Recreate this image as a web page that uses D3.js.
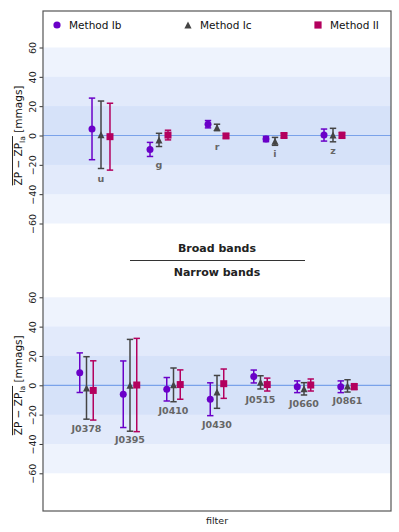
<!DOCTYPE html>
<meta charset="utf-8">
<style>
    body { margin: 0; background: #fff; }
    text { font-family: "DejaVu Sans", sans-serif; }
</style>
<svg width="399" height="532"></svg>
<script src="https://cdn.jsdelivr.net/npm/d3@7"></script>
<script>
    // data
    var broadBands = ["u", "g", "r", "i", "z"];
    var broadIb = [4.5, -9.5, 7.7, -2.4, 0.3];
    var broadIbErr = [21, 4.8, 2.5, 1.8, 4.1];
    var broadIc = [0.5, -3, 5.5, -4, 0.3];
    var broadIcErr = [23, 4.5, 2.2, 2.7, 4.6];
    var broadII = [-0.8, 0.3, -0.3, 0, 0.1];
    var broadIIErr = [22.8, 3.3, 1.5, 1.5, 2];

    var narrowBands = ["J0378", "J0395", "J0410", "J0430", "J0515", "J0660", "J0861"];
    var narrowIb = [8.6, -6.1, -2.7, -9.5, 6, -1, -1];
    var narrowIbErr = [13.5, 22.7, 8, 11.2, 4.4, 4, 4];
    var narrowIc = [-1.8, 0, 0.3, -4.5, 2, -2.4, -0.4];
    var narrowIcErr = [21.3, 31.3, 11.5, 11.2, 4.5, 4.2, 4.2];
    var narrowII = [-3.5, 0.2, 0.5, 1.1, 0.5, 0.2, -0.9];
    var narrowIIErr = [20.2, 31.8, 10, 10, 4.4, 4.1, 2];

    var yTicks = [-60, -40, -20, 0, 20, 40, 60];
    var bands = [60, 40, 20];
    var methods = ["Method Ib", "Method Ic", "Method II"];

    var colors = { "Method Ib": "#6a00c8", "Method Ic": "#444444", "Method II": "#b3005e" };
    var bandFill = { 60: "#eef3fd", 40: "#e2eafb", 20: "#d6e2f9" };

    var svg = d3.select("svg"),
        frameL = 43, frameR = 391, frameT = 11, frameB = 511;

    function marker(sel, m, r) {
        if (m === "Method Ib") {
            sel.append("circle").attr("r", r).attr("fill", colors[m]);
        } else if (m === "Method Ic") {
            sel.append("path").attr("d", "M0," + (-r) + "L" + r + "," + r + "L" + (-r) + "," + r + "Z")
                .attr("fill", colors[m]);
        } else {
            sel.append("rect").attr("x", -r).attr("y", -r).attr("width", 2 * r).attr("height", 2 * r)
                .attr("fill", colors[m]);
        }
    }

    function panel(zeroY, cats, series) {
        var y = d3.scaleLinear().domain([-60, 60]).range([zeroY + 88, zeroY - 88]);
        var x = d3.scalePoint().domain(cats).range([frameL, frameR]).padding(1);
        var off = x.step() * 0.155;
        var g = svg.append("g");

        // shaded bands
        g.selectAll("rect.band").data(bands).enter().append("rect")
            .attr("x", frameL).attr("width", frameR - frameL)
            .attr("y", function (d) { return y(d); })
            .attr("height", function (d) { return y(-d) - y(d); })
            .attr("fill", function (d) { return bandFill[d]; });

        g.append("line").attr("x1", frameL).attr("x2", frameR)
            .attr("y1", y(0)).attr("y2", y(0))
            .attr("stroke", "#7aa2ea").attr("stroke-width", 1.2);

        // y axis ticks
        var axis = g.append("g").attr("transform", "translate(" + frameL + ",0)")
            .call(d3.axisLeft(y).tickValues(yTicks).tickSize(3.5).tickFormat(function (d) {
                return d < 0 ? "\u2212" + (-d) : d;
            }));
        axis.select(".domain").remove();
        axis.selectAll("line").attr("stroke", "#333");
        axis.selectAll(".tick text")
            .attr("font-size", 9.5).attr("fill", "#222")
            .attr("x", null).attr("dy", null).attr("y", 0)
            .attr("text-anchor", "middle")
            .attr("transform", "translate(-7,0)rotate(-90)");

        // error bars and markers
        series.forEach(function (s, k) {
            var dx = (k - 1) * off;
            cats.forEach(function (c, i) {
                var v = s.v[i], e = s.e[i], cx = x(c) + dx;
                var eg = g.append("g").attr("stroke", colors[s.m]).attr("stroke-width", 1.5);
                eg.append("line").attr("x1", cx).attr("x2", cx).attr("y1", y(v - e)).attr("y2", y(v + e));
                [v - e, v + e].forEach(function (t) {
                    eg.append("line").attr("x1", cx - 3.2).attr("x2", cx + 3.2).attr("y1", y(t)).attr("y2", y(t));
                });
                var mg = g.append("g").attr("transform", "translate(" + cx + "," + y(v) + ")");
                marker(mg, s.m, 3.5);
            });
        });

        // filter names under the lowest error bar
        cats.forEach(function (c, i) {
            var low = d3.min(series, function (s) { return s.v[i] - s.e[i]; });
            g.append("text").attr("x", x(c)).attr("y", y(low) + 5)
                .attr("dy", "0.72em")
                .attr("text-anchor", "middle").attr("font-size", 9.5).attr("font-weight", "bold")
                .attr("fill", "#666").text(c);
        });

        // y label with overline
        var lab = svg.append("g").attr("transform", "translate(22," + zeroY + ")rotate(-90)");
        var t = lab.append("text").attr("text-anchor", "middle").attr("font-size", 10.5).attr("fill", "#111");
        var t1 = t.append("tspan").text("ZP \u2212 ZP");
        var t2 = t.append("tspan").attr("font-size", 7.5).attr("dy", 2.5).text("Ia");
        t.append("tspan").attr("dy", -2.5).text(" [mmags]");
        var bb = t.node().getBBox();
        var w1 = t1.node().getComputedTextLength() + t2.node().getComputedTextLength();
        lab.append("line").attr("x1", bb.x).attr("x2", bb.x + w1)
            .attr("y1", bb.y + 0.5).attr("y2", bb.y + 0.5)
            .attr("stroke", "#111").attr("stroke-width", 0.9);
    }

    panel(135.5, broadBands, [
        { m: "Method Ib", v: broadIb, e: broadIbErr },
        { m: "Method Ic", v: broadIc, e: broadIcErr },
        { m: "Method II", v: broadII, e: broadIIErr }
    ]);
    panel(385.3, narrowBands, [
        { m: "Method Ib", v: narrowIb, e: narrowIbErr },
        { m: "Method Ic", v: narrowIc, e: narrowIcErr },
        { m: "Method II", v: narrowII, e: narrowIIErr }
    ]);

    // frame
    svg.append("rect").attr("x", frameL).attr("y", frameT)
        .attr("width", frameR - frameL).attr("height", frameB - frameT)
        .attr("fill", "none").attr("stroke", "#555").attr("stroke-width", 1.2);

    // legend
    var legX = [57, 188, 318];
    methods.forEach(function (m, i) {
        var lg = svg.append("g").attr("transform", "translate(" + legX[i] + ",25)");
        marker(lg, m, 3.6);
        lg.append("text").attr("x", 12).attr("y", 3.8).attr("font-size", 10.5).attr("fill", "#111").text(m);
    });

    // separator
    svg.append("text").attr("x", 217).attr("y", 252).attr("text-anchor", "middle")
        .attr("font-size", 11).attr("font-weight", "bold").attr("fill", "#222").text("Broad bands");
    svg.append("line").attr("x1", 130).attr("x2", 305).attr("y1", 260.5).attr("y2", 260.5)
        .attr("stroke", "#333").attr("stroke-width", 1);
    svg.append("text").attr("x", 217).attr("y", 276).attr("text-anchor", "middle")
        .attr("font-size", 11).attr("font-weight", "bold").attr("fill", "#222").text("Narrow bands");

    svg.append("text").attr("x", 217).attr("y", 524).attr("text-anchor", "middle")
        .attr("font-size", 9.5).attr("fill", "#222").text("filter");
</script>
